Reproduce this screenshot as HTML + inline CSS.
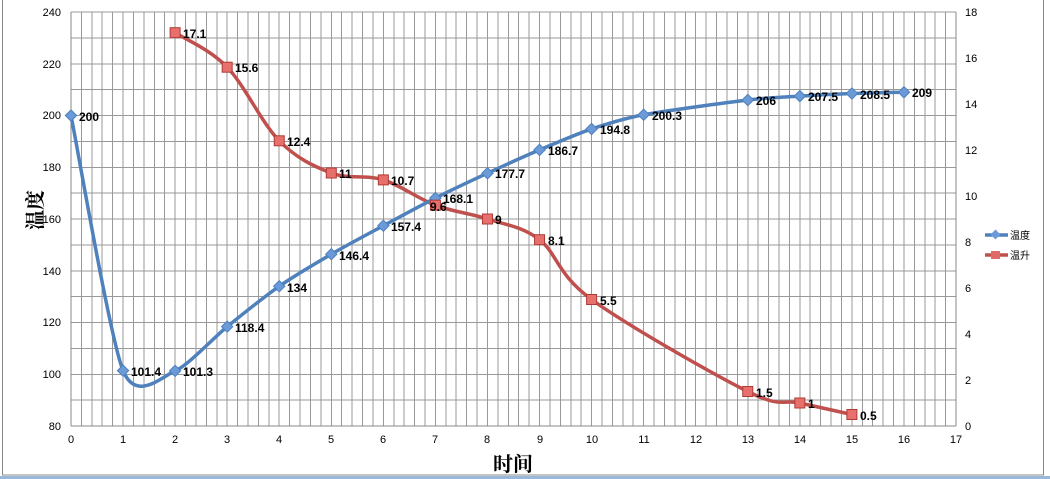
<!DOCTYPE html>
<html><head><meta charset="utf-8"><style>
body{margin:0;background:#fff;}
svg{display:block;font-family:"Liberation Sans","Noto Sans CJK SC",sans-serif;}
.t{font-size:11px;fill:#000}
.l{font-size:12px;font-weight:bold;fill:#000}
</style></head><body>
<svg id="s" width="1050" height="479" xmlns="http://www.w3.org/2000/svg">
<rect x="0" y="0" width="1050" height="479" fill="#fff"/>
<rect x="2.5" y="-2" width="1041" height="477" fill="none" stroke="#888" stroke-width="1"/>
<rect x="0" y="476" width="1050" height="3" fill="#9ab8d8"/>
<g id="grid" stroke="#999" stroke-width="1" shape-rendering="crispEdges"></g>
<line x1="71" y1="12" x2="71" y2="426" stroke="#888"/>
<line x1="956" y1="12" x2="956" y2="426" stroke="#888"/>
<line x1="71" y1="426" x2="956" y2="426" stroke="#888"/>
<g class="t" text-anchor="end">
<text x="61" y="16">240</text><text x="61" y="68">220</text><text x="61" y="119">200</text>
<text x="61" y="171">180</text><text x="61" y="223">160</text><text x="61" y="275">140</text>
<text x="61" y="326">120</text><text x="61" y="378">100</text><text x="61" y="430">80</text>
</g>
<g class="t">
<text x="965" y="16">18</text><text x="965" y="62">16</text><text x="965" y="108">14</text>
<text x="965" y="154">12</text><text x="965" y="200">10</text><text x="965" y="246">8</text>
<text x="965" y="292">6</text><text x="965" y="338">4</text><text x="965" y="384">2</text>
<text x="965" y="430">0</text>
</g>
<g class="t" text-anchor="middle">
<text x="71" y="443">0</text><text x="123" y="443">1</text><text x="175" y="443">2</text>
<text x="227" y="443">3</text><text x="279" y="443">4</text><text x="331" y="443">5</text>
<text x="383" y="443">6</text><text x="435" y="443">7</text><text x="487" y="443">8</text>
<text x="540" y="443">9</text><text x="592" y="443">10</text><text x="644" y="443">11</text>
<text x="696" y="443">12</text><text x="748" y="443">13</text><text x="800" y="443">14</text>
<text x="852" y="443">15</text><text x="904" y="443">16</text><text x="956" y="443">17</text>
</g>
<text x="513" y="471" text-anchor="middle" style="font-family:'Liberation Serif','Noto Serif CJK SC',serif;font-size:20px;font-weight:bold">时间</text>
<text transform="translate(42,210) rotate(-90)" text-anchor="middle" style="font-family:'Liberation Serif','Noto Serif CJK SC',serif;font-size:20px;font-weight:bold">温度</text>
<path id="pr" fill="none" stroke="#c0504d" stroke-width="3.5"/>
<path id="pt" fill="none" stroke="#4f81bd" stroke-width="3.5"/>
<g id="mk"></g>
<g class="l">
<text x="79" y="121">200</text><text x="131" y="376">101.4</text><text x="183" y="376">101.3</text>
<text x="235" y="332">118.4</text><text x="287" y="292">134</text><text x="339" y="260">146.4</text>
<text x="391" y="231">157.4</text><text x="443" y="203">168.1</text><text x="495" y="178">177.7</text>
<text x="548" y="155">186.7</text><text x="600" y="134">194.8</text><text x="652" y="120">200.3</text>
<text x="756" y="105">206</text><text x="808" y="101">207.5</text><text x="860" y="99">208.5</text>
<text x="912" y="97">209</text>
<text x="183" y="38">17.1</text><text x="235" y="72">15.6</text><text x="287" y="146">12.4</text>
<text x="339" y="178">11</text><text x="391" y="185">10.7</text><text x="430" y="211">9.6</text>
<text x="495" y="224">9</text><text x="548" y="245">8.1</text><text x="600" y="305">5.5</text>
<text x="756" y="397">1.5</text><text x="808" y="408">1</text><text x="860" y="420">0.5</text>
</g>
<line x1="985" y1="235" x2="1008" y2="235" stroke="#4f81bd" stroke-width="3.5"/>
<rect x="992" y="231" width="7" height="7" fill="#6a9ad8" transform="rotate(45 995.5 234.5)"/>
<line x1="985" y1="255" x2="1008" y2="255" stroke="#c0504d" stroke-width="3.5"/>
<rect x="991" y="251" width="9" height="8" fill="#e06a66"/>
<text x="1010" y="239" class="t" style="font-size:10px">温度</text>
<text x="1010" y="259" class="t" style="font-size:10px">温升</text>
</svg>
<script>
var NS="http://www.w3.org/2000/svg",g=document.getElementById('grid');
function ln(a,b,c,d){var e=document.createElementNS(NS,'line');e.setAttribute('x1',a);e.setAttribute('y1',b);e.setAttribute('x2',c);e.setAttribute('y2',d);g.appendChild(e);}
for(var i=1;i<85;i++){var x=71+i*885/85;ln(x,12,x,426);}
for(var j=0;j<16;j++){var y=12+j*25.875;ln(71,y,956,y);}
function X(v){return 71+v*52.06;}
var T=[[0,200],[1,101.4],[2,101.3],[3,118.4],[4,134],[5,146.4],[6,157.4],[7,168.1],[8,177.7],[9,186.7],[10,194.8],[11,200.3],[13,206],[14,207.5],[15,208.5],[16,209]].map(function(p){return [X(p[0]),12+(240-p[1])*2.5875];});
var R=[[2,17.1],[3,15.6],[4,12.4],[5,11],[6,10.7],[7,9.6],[8,9],[9,8.1],[10,5.5],[13,1.5],[14,1],[15,0.5]].map(function(p){return [X(p[0]),426-p[1]*23];});
function sm(P,k){var d='M'+P[0][0]+' '+P[0][1];for(var i=0;i<P.length-1;i++){var p0=P[i-1]||P[i],p1=P[i],p2=P[i+1],p3=P[i+2]||p2;
d+=' C'+(p1[0]+(p2[0]-p0[0])/k)+' '+(p1[1]+(p2[1]-p0[1])/k)+' '+(p2[0]-(p3[0]-p1[0])/k)+' '+(p2[1]-(p3[1]-p1[1])/k)+' '+p2[0]+' '+p2[1];}return d;}
document.getElementById('pt').setAttribute('d',sm(T,8));
document.getElementById('pr').setAttribute('d',sm(R,6));
var mk=document.getElementById('mk');
T.forEach(function(p){var r=document.createElementNS(NS,'rect');r.setAttribute('x',p[0]-4);r.setAttribute('y',p[1]-4);r.setAttribute('width',8);r.setAttribute('height',8);r.setAttribute('fill','#6a9ad8');r.setAttribute('stroke','#4f81bd');r.setAttribute('transform','rotate(45 '+p[0]+' '+p[1]+')');mk.appendChild(r);});
R.forEach(function(p){var r=document.createElementNS(NS,'rect');r.setAttribute('x',p[0]-5);r.setAttribute('y',p[1]-5);r.setAttribute('width',10);r.setAttribute('height',10);r.setAttribute('fill','#e8706c');r.setAttribute('stroke','#b03a36');mk.appendChild(r);});
</script>
</body></html>
